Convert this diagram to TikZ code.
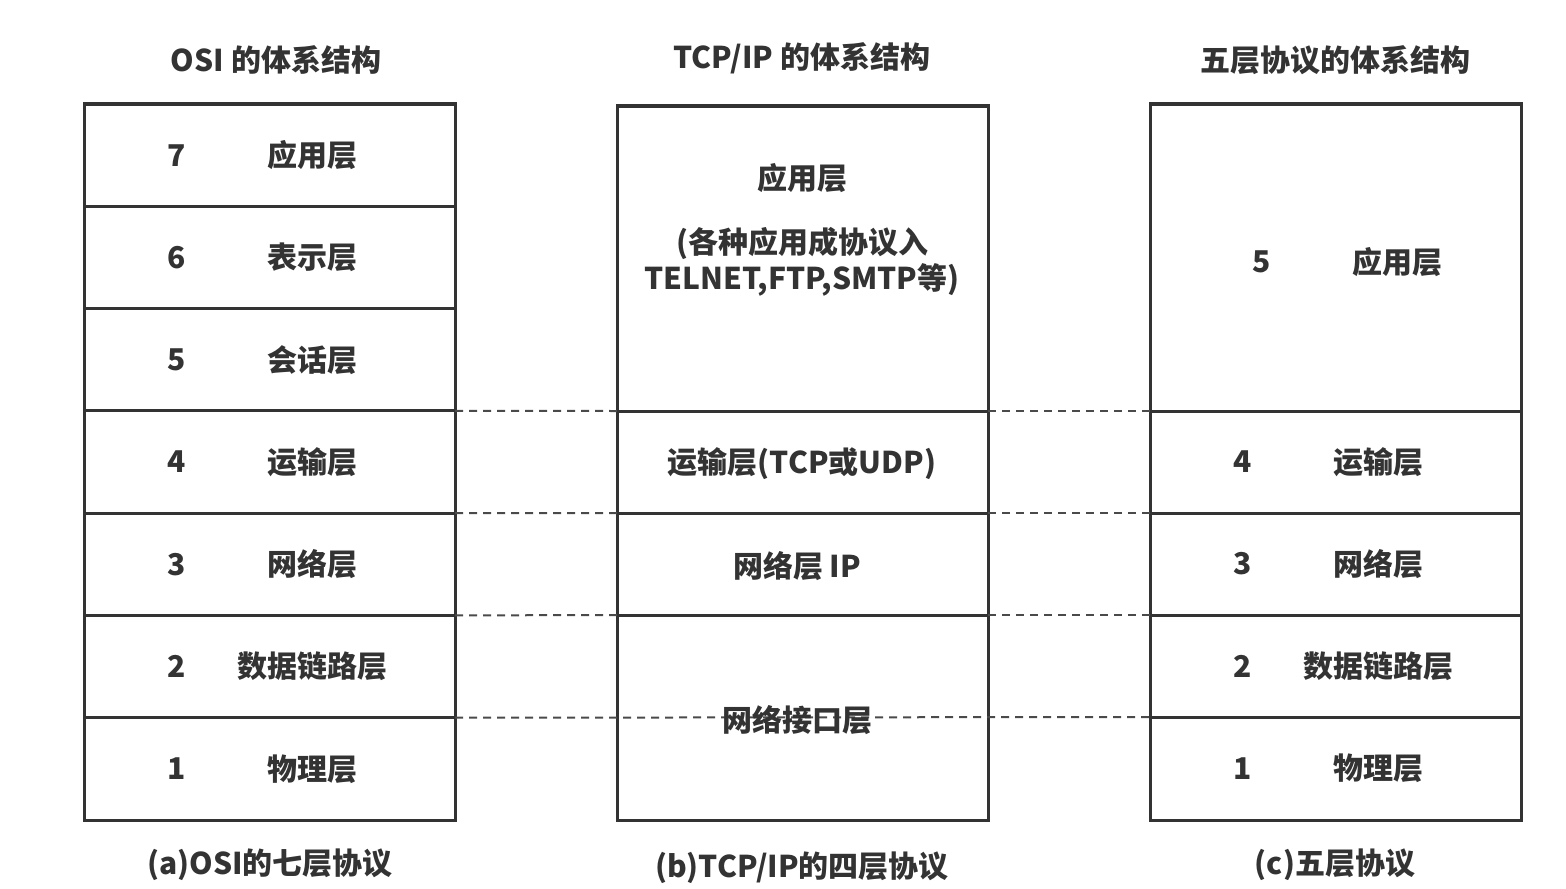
\documentclass[tikz,border=0pt]{standalone}
\usepackage{fontspec}
\setmainfont{Noto Sans CJK SC}
\begin{document}
\begin{tikzpicture}[x=0.5pt,y=-0.5pt,
  every node/.style={font=\fontsize{15}{18}\selectfont\bfseries, text=txt},
  layer/.style={draw=ln, line width=1.5pt, inner sep=0pt, outer sep=0pt, minimum width=185.5pt, anchor=north west},
  sep/.style={draw=dsh, line width=1pt, dash pattern=on 4pt off 3pt},
  lbl/.style={inner sep=1pt}]
\definecolor{ln}{HTML}{333333}
\definecolor{txt}{HTML}{333333}
\definecolor{dsh}{HTML}{4a4a4a}
\useasboundingbox (0,0) rectangle (1566,888);
% boxes
\def\rh{102.286}
\foreach \n [count=\i from 0] in {7,6,5,4,3,2,1}{
  \node[layer, minimum height=\rh*0.5pt] (osi\n) at (84,{104+\rh*\i}) {};
}
\node[layer, minimum height=152.5pt] (tcp4) at (617,106) {};
\node[layer, minimum height=51pt] (tcp3) at (617,411) {};
\node[layer, minimum height=51pt] (tcp2) at (617,513) {};
\node[layer, minimum height=102.5pt] (tcp1) at (617,615) {};
\node[layer, minimum height=153.5pt] (five5) at (1150,104) {};
\node[layer, minimum height=51pt] (five4) at (1150,411) {};
\node[layer, minimum height=51pt] (five3) at (1150,513) {};
\node[layer, minimum height=51pt] (five2) at (1150,615) {};
\node[layer, minimum height=51.5pt] (five1) at (1150,717) {};
% dashed separators
\draw[sep] (osi4.north east) -- (tcp3.north west);
\draw[sep] (tcp3.north east) -- (five4.north west);
\draw[sep] (osi3.north east) -- (tcp2.north west);
\draw[sep] (tcp2.north east) -- (five3.north west);
\draw[sep] (osi2.north east) -- (tcp1.north west);
\draw[sep] (tcp1.north east) -- (five2.north west);
\draw[sep] (osi1.north east) -- (five1.north west);
% titles
\node[lbl] (t1) at (276,60) {OSI 的体系结构};
\node[lbl] (t2) at (802,58) {TCP/IP 的体系结构};
\node[lbl] (t3) at (1335,60) {五层协议的体系结构};
\node[lbl] (c1) at (270,865) {(a)OSI的七层协议};
\node[lbl] (c2) at (802,868) {(b)TCP/IP的四层协议};
\node[lbl] (c3) at (1335,865) {(c)五层协议};
% OSI labels
\foreach \n/\t in {7/应用层,6/表示层,5/会话层,4/运输层,3/网络层,2/数据链路层,1/物理层}{
  \node[lbl] (on\n) at ([xshift=46.5pt]osi\n.west) {\n};
  \node[lbl] (ot\n) at ([xshift=114pt]osi\n.west) {\t};
}
% TCP/IP labels
\node[lbl] (m4a) at (802,178) {应用层};
\node[lbl, align=center] (m4b) at (802,262) {(各种应用成协议入\\TELNET,FTP,SMTP等)};
\node[lbl] (m3) at (802,464) {运输层(TCP或UDP)};
\node[lbl] (m2) at (797,566) {网络层 IP};
\node[lbl] (m1) at (797,720) {网络接口层};
% five-layer labels
\node[lbl] (f5n) at (1262,262) {5};
\node[lbl] (f5t) at (1397,262) {应用层};
\foreach \n/\t in {4/运输层,3/网络层,2/数据链路层,1/物理层}{
  \node[lbl] (fn\n) at ([xshift=46.5pt]five\n.west) {\n};
  \node[lbl] (ft\n) at ([xshift=114pt]five\n.west) {\t};
}
\end{tikzpicture}
\end{document}
